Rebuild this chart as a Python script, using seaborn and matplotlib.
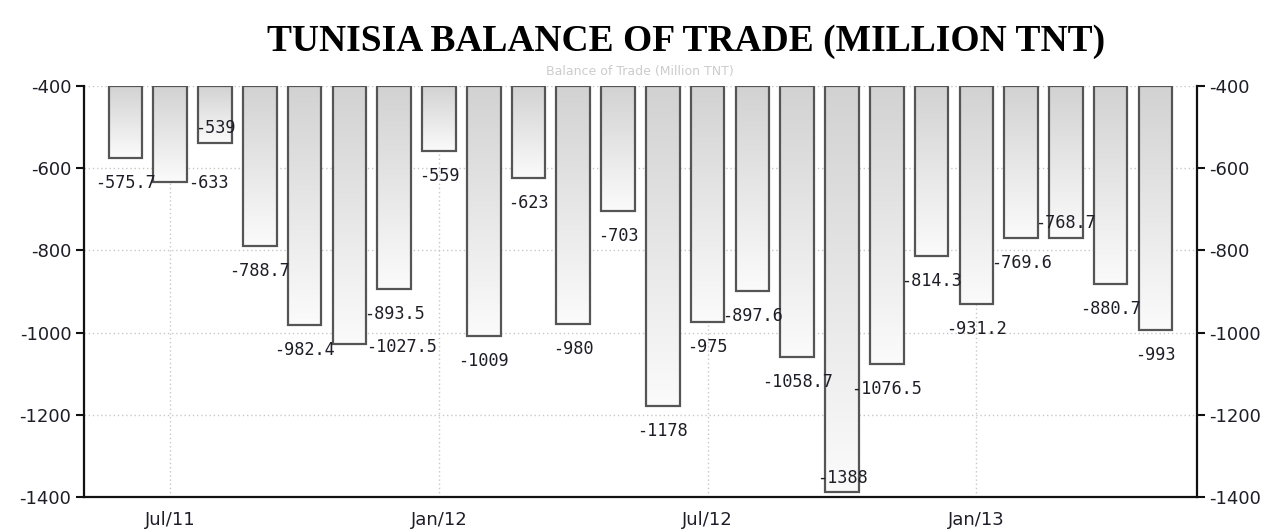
import numpy as np
import pandas as pd
import matplotlib
matplotlib.use("Agg")
import matplotlib.pyplot as plt
from matplotlib.colors import LinearSegmentedColormap
import seaborn as sns

# monthly balance of trade, Jun 2011 - May 2013 (million TND)
months = ["Jun/11", "Jul/11", "Aug/11", "Sep/11", "Oct/11", "Nov/11",
          "Dec/11", "Jan/12", "Feb/12", "Mar/12", "Apr/12", "May/12",
          "Jun/12", "Jul/12", "Aug/12", "Sep/12", "Oct/12", "Nov/12",
          "Dec/12", "Jan/13", "Feb/13", "Mar/13", "Apr/13", "May/13"]
values = [-575.7, -633, -539, -788.7, -982.4, -1027.5,
          -893.5, -559, -1009, -623, -980, -703,
          -1178, -975, -897.6, -1058.7, -1388, -1076.5,
          -814.3, -931.2, -769.6, -768.7, -880.7, -993]
value_labels = ["-575.7", "-633", "-539", "-788.7", "-982.4", "-1027.5",
                "-893.5", "-559", "-1009", "-623", "-980", "-703",
                "-1178", "-975", "-897.6", "-1058.7", "-1388", "-1076.5",
                "-814.3", "-931.2", "-769.6", "-768.7", "-880.7", "-993"]
x_ticklabels = ["Jul/11", "Jan/12", "Jul/12", "Jan/13"]
y_ticks = [-1400, -1200, -1000, -800, -600, -400]

df = pd.DataFrame({"month": months, "value": values})

base = -400
text_color = "#1e1e28"

# label nudges (pixels) where the original moved labels to avoid overlap
nudge = {1: (38, -1), 2: (0, 15), 5: (52, -3), 16: (0, 14), 21: (0, 15)}

sns.set_style("white")
fig = plt.figure(figsize=(12.72, 5.30), dpi=100)
ax = fig.add_axes([0.066, 0.0623, 0.875, 0.7754])

sns.barplot(data=df, x="month", y="value", ax=ax, width=0.75,
            color="#dddddd", saturation=1, errorbar=None)

cmap = LinearSegmentedColormap.from_list("g", ["#d2d2d2", "#fbfbfb"])
grad = np.linspace(0, 1, 256).reshape(-1, 1)

for i, p in enumerate(ax.patches):
    v = values[i]
    p.set_y(base)
    p.set_height(v - base)
    p.set_facecolor("none")
    p.set_edgecolor("#555555")
    p.set_linewidth(1.6)
    p.set_zorder(3)
    x0 = p.get_x()
    w = p.get_width()
    im = ax.imshow(grad, extent=[x0, x0 + w, v, base], aspect="auto",
                   cmap=cmap, origin="upper", zorder=2)
    im.set_clip_path(p)

    dx, dy = nudge.get(i, (0, -25))
    ax.annotate(value_labels[i], xy=(i, v), xytext=(dx, dy),
                textcoords="offset pixels", ha="center", va="center",
                fontsize=12.2, family="DejaVu Sans Mono", color=text_color,
                zorder=5)

ax.set_xlim(-0.927, len(values) - 1 + 0.927)
ax.set_ylim(-1400, -400)
ax.set_yticks(y_ticks)
ax.set_yticklabels([str(t) for t in y_ticks])

tick_idx = [months.index(m) for m in x_ticklabels]
ax.set_xticks(tick_idx)
ax.set_xticklabels(x_ticklabels)
ax.set_xlabel("")
ax.set_ylabel("")

ax.set_axisbelow(True)
ax.grid(True, axis="both", linestyle=(0, (1, 2)), color="#c8c8c8", linewidth=1)

for side in ["left", "right", "bottom"]:
    ax.spines[side].set_visible(True)
    ax.spines[side].set_color("#111111")
    ax.spines[side].set_linewidth(1.6)
ax.spines["top"].set_visible(False)

ax.tick_params(axis="both", direction="out", length=6, width=1.5,
               colors="#111111", labelcolor=text_color, labelsize=13)
ax.tick_params(axis="y", pad=3)
ax.tick_params(axis="x", pad=4)

ax2 = ax.twinx()
ax2.set_ylim(ax.get_ylim())
ax2.set_yticks(y_ticks)
ax2.set_yticklabels([str(t) for t in y_ticks])
ax2.tick_params(axis="y", direction="out", length=6, width=1.5,
                colors="#111111", labelcolor=text_color, labelsize=13, pad=3)
for side in ["left", "right", "bottom", "top"]:
    ax2.spines[side].set_visible(False)
ax2.grid(False)

fig.text(0.539, 0.921, "TUNISIA BALANCE OF TRADE (MILLION TNT)",
         ha="center", va="center", fontsize=27, fontweight="bold",
         family="Liberation Serif", color="#000000")
fig.text(0.503, 0.866, "Balance of Trade (Million TNT)", ha="center",
         va="center", fontsize=9, color="#cccccc")

fig.savefig("out.png", dpi=100)
